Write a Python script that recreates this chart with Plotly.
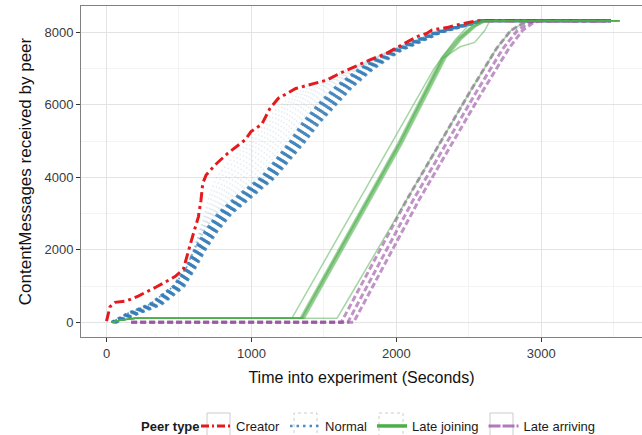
import plotly.graph_objects as go

# ---------------- data ----------------
creator_t = [0, 24, 59, 139, 219, 346, 473, 530, 588, 611, 634, 652, 664, 687, 749, 836,
             914, 956, 997, 1071, 1128, 1186, 1306, 1410, 1519, 1611, 1726, 1818, 1933,
             2048, 2140, 2209, 2244, 2347, 2439, 2563, 3480]
creator_y = [30, 430, 550, 590, 725, 980, 1260, 1460, 2290, 2590, 2910, 3370, 3830, 4060, 4340, 4660,
             4890, 5030, 5260, 5460, 5900, 6180, 6450, 6560, 6680, 6870, 7085, 7240, 7420,
             7680, 7880, 7970, 8060, 8130, 8220, 8320, 8320]

normal_levels = [0, 250, 500, 750, 1000, 1500, 2000, 2500, 3000, 3500, 4000, 4500, 5000,
                 5500, 6000, 6500, 7000, 7500, 8000, 8320, 8320]

# main (dense) group of normal peers: time at which each level was reached
normal_band_t = [
    [35, 150, 300, 380, 465, 550, 610, 680, 770, 910, 1070, 1175, 1270, 1355, 1460, 1585, 1750, 1970, 2270, 2580, 3480],
    [40, 162, 313, 393, 477, 560, 622, 693, 785, 927, 1085, 1190, 1286, 1373, 1480, 1603, 1765, 1980, 2277, 2583, 3480],
    [45, 173, 327, 407, 488, 570, 633, 707, 800, 943, 1100, 1205, 1303, 1392, 1500, 1622, 1780, 1990, 2283, 2587, 3480],
    [50, 185, 340, 420, 500, 580, 645, 720, 815, 960, 1115, 1220, 1320, 1410, 1520, 1640, 1795, 2000, 2290, 2590, 3480],
    [55, 197, 353, 433, 512, 590, 657, 733, 830, 977, 1130, 1235, 1337, 1428, 1540, 1658, 1810, 2010, 2297, 2593, 3480],
    [60, 208, 367, 447, 523, 600, 668, 747, 845, 993, 1145, 1250, 1354, 1447, 1560, 1677, 1825, 2020, 2303, 2597, 3480],
    [65, 220, 380, 460, 535, 610, 680, 760, 860, 1010, 1160, 1265, 1370, 1465, 1580, 1695, 1840, 2030, 2310, 2600, 3480],
]

# faster normal peers (faint cloud between the band and the creator)
normal_fast_t = [
    [35, 150, 300, 380, 465, 550, 609, 676, 761, 890, 1039, 1143, 1242, 1329, 1434, 1565, 1743, 1969, 2270, 2580, 3480],
    [35, 150, 300, 380, 465, 550, 608, 672, 752, 870, 1008, 1112, 1214, 1302, 1408, 1544, 1736, 1968, 2270, 2580, 3480],
    [35, 150, 300, 380, 465, 550, 607, 668, 743, 850, 977, 1080, 1186, 1276, 1382, 1524, 1729, 1967, 2270, 2580, 3480],
    [35, 150, 300, 380, 465, 550, 606, 664, 734, 830, 946, 1049, 1158, 1249, 1356, 1503, 1722, 1966, 2270, 2580, 3480],
    [35, 150, 300, 380, 465, 550, 605, 660, 725, 810, 915, 1017, 1130, 1223, 1330, 1483, 1715, 1965, 2270, 2580, 3480],
    [35, 150, 300, 380, 465, 550, 604, 656, 716, 790, 884, 986, 1102, 1196, 1304, 1462, 1708, 1964, 2270, 2580, 3480],
    [35, 150, 300, 380, 465, 550, 603, 652, 707, 770, 853, 954, 1074, 1170, 1278, 1442, 1701, 1963, 2270, 2580, 3480],
    [35, 150, 300, 380, 465, 550, 602, 648, 698, 750, 822, 923, 1046, 1143, 1252, 1421, 1694, 1962, 2270, 2580, 3480],
    [35, 150, 300, 380, 465, 550, 601, 644, 689, 730, 791, 891, 1018, 1117, 1226, 1401, 1687, 1961, 2270, 2580, 3480],
    [35, 150, 300, 380, 465, 550, 600, 640, 680, 710, 760, 860, 990, 1090, 1200, 1380, 1680, 1960, 2270, 2580, 3480],
]

joining_t = [
    [36, 100, 200, 1279, 2025, 2260, 2405, 2500, 2580, 3540],
    [36, 100, 200, 1335, 2010, 2309, 2424, 2516, 2595, 3540],
    [36, 100, 200, 1343, 2018, 2317, 2432, 2524, 2603, 3540],
    [36, 100, 200, 1350, 2025, 2324, 2439, 2531, 2610, 3540],
    [36, 100, 200, 1358, 2033, 2332, 2447, 2539, 2618, 3540],
    [36, 100, 200, 1366, 2041, 2340, 2455, 2547, 2626, 3540],
    [36, 100, 200, 1347, 2022, 2321, 2440, 2540, 2610, 2645, 3540],
    [36, 100, 200, 1590, 1657, 2071, 2508, 2692, 2790, 2874, 2930, 3540],
]
joining_y = [
    [0, 60, 110, 110, 5350, 7000, 7790, 8200, 8320, 8320],
    [0, 60, 110, 110, 4938, 7283, 7834, 8155, 8320, 8320],
    [0, 60, 110, 110, 4938, 7283, 7834, 8155, 8320, 8320],
    [0, 60, 110, 110, 4938, 7283, 7834, 8155, 8320, 8320],
    [0, 60, 110, 110, 4938, 7283, 7834, 8155, 8320, 8320],
    [0, 60, 110, 110, 4938, 7283, 7834, 8155, 8320, 8320],
    [0, 60, 110, 110, 4938, 7283, 7600, 7720, 8050, 8320, 8320],
    [0, 60, 110, 110, 560, 3372, 6360, 7560, 8050, 8250, 8320, 8320],
]

arriving_t = [
    [170, 1620, 2071, 2508, 2692, 2790, 2874, 2930, 3480],
    [170, 1665, 2116, 2553, 2737, 2835, 2910, 2960, 3480],
    [170, 1705, 2156, 2593, 2777, 2870, 2940, 2990, 3480],
]
arriving_y = [
    [0, 0, 3372, 6360, 7560, 8050, 8250, 8320, 8320],
    [0, 0, 3372, 6360, 7560, 8050, 8250, 8320, 8320],
    [0, 0, 3372, 6360, 7560, 8050, 8250, 8320, 8320],
]

peer_types = ["Creator", "Normal", "Late joining", "Late arriving"]
x_ticks = [0, 1000, 2000, 3000]
y_ticks = [0, 2000, 4000, 6000, 8000]

# ---------------- styling ----------------
RED, BLUE, GREEN, PURPLE = "#E41A1C", "#377EB8", "#4DAF4A", "#984EA3"
FONT = "Liberation Sans, Arial, Helvetica, sans-serif"

fig = go.Figure()

# Normal peers - faint faster ones
for tt in normal_fast_t:
    fig.add_trace(go.Scatter(x=tt, y=normal_levels, mode="lines",
                             line=dict(color=BLUE, width=1.5, dash="1.5px,3px"),
                             opacity=0.13, showlegend=False, hoverinfo="skip"))
# Normal peers - dense band
for tt in normal_band_t:
    fig.add_trace(go.Scatter(x=tt, y=normal_levels, mode="lines",
                             line=dict(color=BLUE, width=3, dash="3px,4px"),
                             opacity=0.85, showlegend=False))

# Creator
fig.add_trace(go.Scatter(x=creator_t, y=creator_y, mode="lines",
                         line=dict(color=RED, width=3, dash="10px,4px,3px,4px"),
                         showlegend=False))

# Late arriving
for tt, yy in zip(arriving_t, arriving_y):
    fig.add_trace(go.Scatter(x=tt, y=yy, mode="lines",
                             line=dict(color=PURPLE, width=3, dash="6px,3px"),
                             opacity=0.6, showlegend=False))

# Late joining
for tt, yy in zip(joining_t, joining_y):
    fig.add_trace(go.Scatter(x=tt, y=yy, mode="lines",
                             line=dict(color=GREEN, width=1.5),
                             opacity=0.5, showlegend=False))

# legend entries (key styles as in the reference legend)
legend_styles = [
    dict(color=RED, width=3, dash="8px,3px,2px,3px"),
    dict(color=BLUE, width=2.5, dash="2.5px,4px"),
    dict(color=GREEN, width=3.5),
    dict(color=PURPLE, width=3, dash="12px,2px"),
]
legend_opacity = [1, 0.9, 1, 0.75]
for name, st, op in zip(peer_types, legend_styles, legend_opacity):
    fig.add_trace(go.Scatter(x=[None], y=[None], mode="lines", name=name,
                             line=st, opacity=op, showlegend=True))

W, H = 642, 435
ML, MT, MB = 81, 6, 98
PW, PH = W - ML, H - MT - MB


def px2paper_x(px):
    return (px - ML) / PW


def py2paper_y(py):
    return (H - MB - py) / PH


# legend key boxes (ggplot style)
shapes = []
for (x0, x1, dash) in [(207, 230, "solid"), (294, 317, "dot"), (379, 403, "dot"), (490, 513, "solid")]:
    shapes.append(dict(type="rect", xref="paper", yref="paper",
                       x0=px2paper_x(x0), x1=px2paper_x(x1),
                       y0=py2paper_y(440), y1=py2paper_y(413),
                       line=dict(color="#CCCCCC", width=1, dash=dash), layer="below"))

fig.update_layout(
    width=W, height=H,
    margin=dict(l=ML, r=0, t=MT, b=MB, pad=0, autoexpand=False),
    paper_bgcolor="white", plot_bgcolor="white",
    font=dict(family=FONT, size=13, color="#1a1a1a"),
    showlegend=True,
    legend=dict(orientation="h", x=px2paper_x(196), xanchor="left",
                y=py2paper_y(426), yanchor="middle",
                font=dict(size=13, color="#1a1a1a"),
                bgcolor="rgba(0,0,0,0)", traceorder="normal"),
    annotations=[dict(text="<b>Peer type</b>", xref="paper", yref="paper",
                      x=px2paper_x(139), y=py2paper_y(426), xanchor="left", yanchor="middle",
                      showarrow=False, font=dict(size=13, color="#1a1a1a"))],
    shapes=shapes,
)

fig.update_xaxes(
    range=[-176, 3695], tickvals=x_ticks, ticktext=[str(v) for v in x_ticks],
    showgrid=True, gridcolor="#E3E3E3", gridwidth=1,
    minor=dict(showgrid=True, dtick=500, tick0=0, gridcolor="#F3F3F3", gridwidth=1),
    zeroline=False, showline=True, linecolor="#808080", linewidth=1, mirror=True,
    ticks="outside", ticklen=4, tickcolor="#333333",
    tickfont=dict(size=13, color="#3a3a3a"), automargin=False,
    title=dict(text="Time into experiment (Seconds)", font=dict(size=16, color="#111111"), standoff=12),
)
fig.update_yaxes(
    range=[-405.5, 8725.5], tickvals=y_ticks, ticktext=[str(v) for v in y_ticks],
    showgrid=True, gridcolor="#E3E3E3", gridwidth=1,
    minor=dict(showgrid=True, dtick=1000, tick0=0, gridcolor="#F3F3F3", gridwidth=1),
    zeroline=False, showline=True, linecolor="#808080", linewidth=1, mirror=False,
    ticks="outside", ticklen=4, tickcolor="#333333",
    tickfont=dict(size=13, color="#3a3a3a"), automargin=False,
    title=dict(text="ContentMessages received by peer", font=dict(size=17, color="#111111"), standoff=8),
)

fig.write_html("out.html", config={"displayModeBar": False},
               post_script="document.body.style.margin='0';document.body.style.overflow='hidden';")
